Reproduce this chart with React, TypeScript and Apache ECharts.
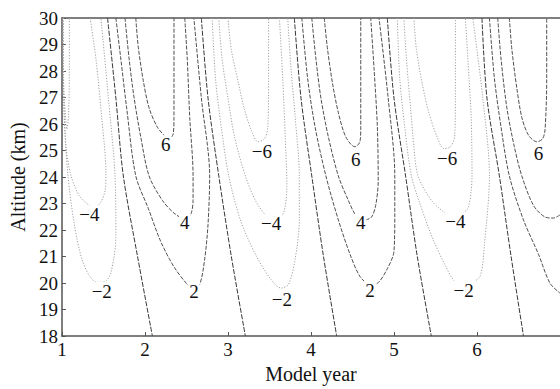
import React, { useEffect, useRef } from "react";
import * as echarts from "echarts";

// Axis ranges (Model year, Altitude km)
const xRange = [1, 7];
const yRange = [18, 30];

// Contour lines: [model year, altitude km]
// cycle 0 (negative, left edge)
const c0_m6 = [[1.02, 30], [1.02, 27.72], [1.04, 26.43], [1.06, 25.8], [1.08, 26.32], [1.09, 28.09], [1.09, 30]];
const c0_m4 = [[1.012, 30], [1.02, 26.98], [1.05, 25.14], [1.11, 24.04], [1.21, 23.3], [1.33, 22.93], [1.39, 22.86], [1.46, 23.01], [1.52, 23.49], [1.53, 24.15], [1.48, 26.25], [1.41, 28.45], [1.34, 30]];
const c0_m2 = [[1.005, 30], [1.03, 26.25], [1.07, 24.15], [1.15, 22.2], [1.24, 20.91], [1.33, 20.28], [1.42, 20.03], [1.52, 20.06], [1.59, 20.39], [1.65, 21.72], [1.64, 24.04], [1.56, 26.98], [1.47, 30]];
const zero1 = [[1.55, 30], [1.65, 26.98], [1.74, 24.04], [1.91, 21.02], [2.09, 18]];
// cycle 1 (positive)
const c1_p2 = [[1.65, 30], [1.71, 28.45], [1.78, 26.61], [1.89, 24.04], [2.04, 22.82], [2.19, 21.57], [2.35, 20.61], [2.51, 19.95], [2.58, 19.81], [2.66, 19.95], [2.72, 20.91], [2.76, 22.2], [2.78, 24.04], [2.68, 26.98], [2.59, 30]];
const c1_p4 = [[1.76, 30], [1.81, 28.45], [1.87, 26.98], [1.95, 25.51], [2.05, 24.04], [2.21, 23.12], [2.35, 22.64], [2.48, 22.42], [2.55, 22.57], [2.58, 23.12], [2.58, 24.04], [2.54, 26.25], [2.51, 28.45], [2.48, 30]];
const c1_p6 = [[1.89, 30], [1.92, 28.9], [1.98, 27.64], [2.05, 26.61], [2.15, 25.88], [2.24, 25.55], [2.29, 25.44], [2.34, 25.62], [2.35, 26.25], [2.35, 27.72], [2.35, 30]];
const zero2 = [[2.68, 30], [2.76, 26.98], [2.89, 24.04], [3.04, 21.02], [3.21, 18]];
// cycle 1 (negative)
const c2_m2 = [[2.81, 30], [2.85, 27.72], [2.92, 25.88], [3.01, 24.04], [3.15, 22.38], [3.33, 21.09], [3.51, 20.17], [3.64, 19.81], [3.73, 19.95], [3.81, 20.91], [3.86, 22.38], [3.86, 24.04], [3.81, 26.25], [3.76, 28.09], [3.72, 30]];
const c2_m4 = [[2.89, 30], [2.93, 28.45], [3.0, 26.98], [3.08, 25.51], [3.21, 24.04], [3.33, 23.12], [3.45, 22.57], [3.54, 22.34], [3.62, 22.42], [3.68, 22.75], [3.71, 23.67], [3.69, 25.51], [3.66, 27.72], [3.62, 30]];
const c2_m6 = [[3.0, 30], [3.04, 28.82], [3.12, 27.64], [3.2, 26.54], [3.29, 25.69], [3.36, 25.33], [3.44, 25.44], [3.48, 25.88], [3.49, 27.72], [3.49, 30]];
const zero3 = [[3.8, 30], [3.88, 26.98], [4.01, 24.04], [4.15, 21.02], [4.31, 18]];
// cycle 2 (positive)
const c3_p2 = [[3.89, 30], [3.96, 27.72], [4.05, 25.88], [4.18, 24.04], [4.33, 22.38], [4.47, 21.09], [4.59, 20.25], [4.71, 19.95], [4.8, 19.99], [4.92, 20.54], [5.0, 21.2], [5.01, 22.57], [5.01, 24.04], [4.93, 26.98], [4.82, 30]];
const c3_p4 = [[4.01, 30], [4.06, 28.45], [4.12, 26.98], [4.21, 25.51], [4.33, 24.04], [4.45, 23.12], [4.54, 22.57], [4.65, 22.38], [4.73, 22.49], [4.78, 22.93], [4.81, 23.85], [4.8, 25.88], [4.76, 28.09], [4.72, 30]];
const c3_p6 = [[4.16, 30], [4.2, 28.82], [4.26, 27.53], [4.33, 26.43], [4.42, 25.51], [4.53, 25.14], [4.59, 25.33], [4.6, 25.88], [4.6, 27.72], [4.6, 30]];
const zero4 = [[4.92, 30], [5.0, 26.98], [5.14, 24.04], [5.28, 21.02], [5.45, 18]];
// cycle 2 (negative)
const c4_m2 = [[5.04, 30], [5.07, 27.72], [5.13, 25.88], [5.21, 24.04], [5.32, 22.93], [5.47, 21.65], [5.62, 20.65], [5.72, 20.1], [5.82, 19.92], [5.93, 19.99], [6.04, 20.28], [6.09, 21.46], [6.15, 24.04], [6.07, 26.98], [5.95, 30]];
const c4_m4 = [[5.12, 30], [5.15, 28.45], [5.2, 26.61], [5.24, 25.14], [5.29, 24.04], [5.45, 23.12], [5.6, 22.68], [5.69, 22.53], [5.81, 22.6], [5.89, 22.82], [5.93, 23.49], [5.94, 24.04], [5.93, 26.25], [5.89, 28.45], [5.86, 30]];
const c4_m6 = [[5.24, 30], [5.27, 28.82], [5.34, 27.53], [5.42, 26.43], [5.52, 25.51], [5.6, 25.07], [5.68, 25.14], [5.73, 25.51], [5.74, 26.98], [5.74, 30]];
const zero5 = [[6.06, 30], [6.12, 26.98], [6.27, 24.04], [6.41, 21.02], [6.56, 18]];
// cycle 3 (positive, right edge)
const c5_p2 = [[6.15, 30], [6.21, 27.72], [6.29, 25.88], [6.39, 24.04], [6.56, 22.38], [6.74, 21.09], [6.88, 19.99], [7.0, 19.62]];
const c5_p4 = [[6.25, 30], [6.29, 28.45], [6.36, 26.61], [6.45, 25.14], [6.54, 24.04], [6.68, 22.93], [6.82, 22.49], [6.92, 22.45], [7.0, 22.57]];
const c5_p6 = [[6.39, 30], [6.42, 28.82], [6.48, 27.35], [6.54, 26.25], [6.62, 25.58], [6.72, 25.33], [6.79, 25.44], [6.82, 25.8], [6.84, 27.72], [6.84, 30]];

const contourLevels = [-6, -4, -2, 0, 2, 4, 6, 0, -2, -4, -6, 0, 2, 4, 6, 0, -2, -4, -6, 0, 2, 4, 6];
const contourLines = [c0_m6, c0_m4, c0_m2, zero1, c1_p2, c1_p4, c1_p6, zero2, c2_m2, c2_m4, c2_m6, zero3, c3_p2, c3_p4, c3_p6, zero4, c4_m2, c4_m4, c4_m6, zero5, c5_p2, c5_p4, c5_p6];

// Contour labels
const labelTexts = ["−4", "−2", "6", "4", "2", "−6", "−4", "−2", "6", "4", "2", "−6", "−4", "−2", "6"];
const labelPositions = [[1.33, 22.57], [1.48, 19.69], [2.25, 25.22], [2.48, 22.27], [2.59, 19.69], [3.41, 24.96], [3.52, 22.23], [3.65, 19.36], [4.54, 24.66], [4.6, 22.27], [4.71, 19.73], [5.64, 24.7], [5.74, 22.31], [5.84, 19.73], [6.74, 24.88]];

const FONT = "'Liberation Serif', 'DejaVu Serif', serif";

function styleFor(level: number) {
  if (level > 0) return { color: "#505050", width: 1, type: [4, 1.5] };
  if (level === 0) return { color: "#383838", width: 1, type: [5, 1.5] };
  return { color: "#a0a0a0", width: 1, type: [1.2, 1.6] };
}

export default function App() {
  const ref = useRef<HTMLDivElement>(null);
  useEffect(() => {
    if (!ref.current) return;
    const chart = echarts.init(ref.current, null, { renderer: "svg" });
    const lineSeries = contourLines.map((pts, i) => ({
      type: "line",
      data: pts,
      symbol: "none",
      smooth: 0.3,
      silent: true,
      clip: true,
      lineStyle: styleFor(contourLevels[i]),
      z: 2,
    }));
    const labelSeries = {
      type: "custom",
      silent: true,
      z: 5,
      data: labelPositions,
      renderItem: (params: any, api: any) => {
        const p = api.coord([api.value(0), api.value(1)]);
        return {
          type: "text",
          x: p[0],
          y: p[1],
          style: {
            text: labelTexts[params.dataIndex],
            fontSize: 19,
            fontFamily: FONT,
            fill: "#111",
            align: "center",
            verticalAlign: "middle",
            backgroundColor: "#fff",
            padding: [0, 1],
          },
        };
      },
    };
    chart.setOption({
      animation: false,
      backgroundColor: "#fff",
      grid: { left: 57, top: 18, width: 510, height: 326 },
      xAxis: [
        {
          type: "value",
          min: xRange[0],
          max: xRange[1],
          interval: 1,
          name: "Model year",
          nameLocation: "middle",
          nameGap: 28,
          nameTextStyle: { fontFamily: FONT, fontSize: 20, color: "#111" },
          axisLine: { show: true, lineStyle: { color: "#555", width: 1.5 } },
          axisTick: { show: true, inside: true, length: 4, lineStyle: { color: "#555" } },
          axisLabel: { fontFamily: FONT, fontSize: 19, color: "#111", margin: 4, showMaxLabel: false },
          splitLine: { show: false },
        },
        {
          type: "value",
          position: "top",
          min: xRange[0],
          max: xRange[1],
          interval: 1,
          axisLine: { show: true, lineStyle: { color: "#555", width: 1.5 } },
          axisTick: { show: false },
          axisLabel: { show: false },
          splitLine: { show: false },
        },
      ],
      yAxis: {
        type: "value",
        min: yRange[0],
        max: yRange[1],
        interval: 1,
        name: "Altitude (km)",
        nameLocation: "middle",
        nameGap: 31,
        nameRotate: 90,
        nameTextStyle: { fontFamily: FONT, fontSize: 20, color: "#111" },
        axisLine: { show: true, lineStyle: { color: "#555", width: 1.5 } },
        axisTick: { show: true, inside: true, length: 4, lineStyle: { color: "#555" } },
        axisLabel: { fontFamily: FONT, fontSize: 19, color: "#111", margin: 4 },
        splitLine: { show: false },
      },
      series: [...lineSeries, labelSeries],
    });
    return () => chart.dispose();
  }, []);
  return (
    <div
      ref={ref}
      style={{ position: "absolute", left: 0, top: 0, width: 560, height: 389 }}
    />
  );
}
